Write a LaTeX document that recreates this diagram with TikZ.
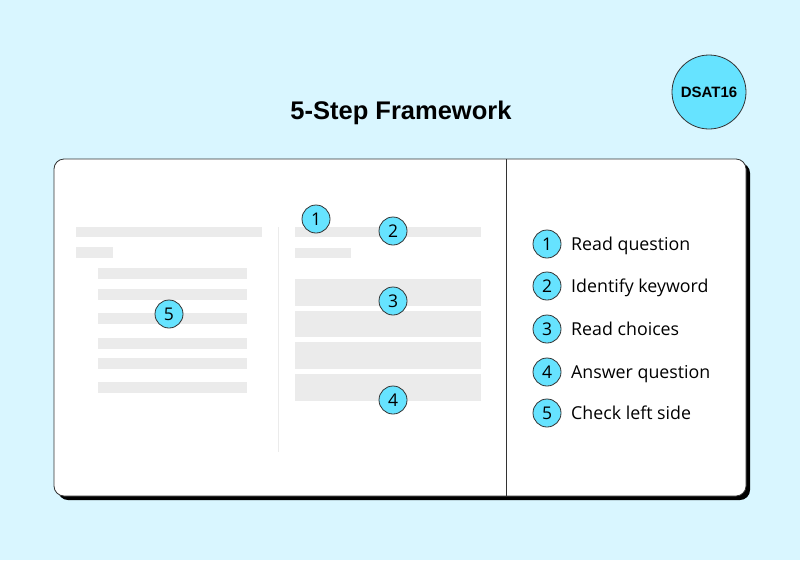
\documentclass[tikz,border=0pt]{standalone}
\usepackage{fontspec}
\setmainfont{Open Sans}
\newfontfamily\titlefont{Liberation Sans}
\begin{document}
\begin{tikzpicture}[x=1pt,y=-1pt,
  numcirc/.style={circle,draw=black!80,line width=0.8pt,fill=cyanfill,minimum size=28pt,inner sep=0pt,font=\fontsize{17.5}{17}\selectfont},
  bar/.style={fill=bargray,draw=none},
  legtext/.style={anchor=base west,inner sep=0pt,font=\fontsize{17.8}{20}\selectfont}]
\definecolor{bgcol}{HTML}{D9F6FF}
\definecolor{cyanfill}{HTML}{66E3FF}
\definecolor{bargray}{HTML}{EBEBEB}
\definecolor{edgecol}{HTML}{333333}
\fill[bgcol] (0,0) rectangle (800,560);
\useasboundingbox (0,0) rectangle (800,560);
% title
\node[font=\titlefont\bfseries\fontsize{25.5}{28}\selectfont] (title) at (401,113) {5-Step Framework};
\node[circle,draw=edgecol,line width=0.8pt,fill=cyanfill,minimum size=74pt,inner sep=0pt,font=\titlefont\bfseries\fontsize{15}{15}\selectfont] (badge) at (709,92) {DSAT16};
% card shadow and card
\fill[black,rounded corners=10pt] (58,163) rectangle (750,500);
\draw[edgecol,line width=0.8pt,fill=white,rounded corners=10pt] (54,159) rectangle (746,496);
\draw[edgecol,line width=0.8pt] (506,159) -- (506,496);
% left column
\fill[bar] (76,227) rectangle (262,237);
\fill[bar] (76,247) rectangle (113,258);
\foreach \y in {268,289,313,338,358,382}{
  \fill[bar] (98,\y) rectangle (247,\y+10.5);
}
\draw[line width=1pt,color=bargray] (278.5,227) -- (278.5,452);
% middle column
\fill[bar] (295,227) rectangle (481,237);
\fill[bar] (295,248) rectangle (351,258);
\fill[bar] (295,279) rectangle (481,306);
\fill[bar] (295,311) rectangle (481,337);
\fill[bar] (295,342) rectangle (481,369);
\fill[bar] (295,374) rectangle (481,401);
% circles on page
\node[numcirc] (p1) at (316,219) {1};
\node[numcirc] (p2) at (393,231) {2};
\node[numcirc] (p3) at (393,301) {3};
\node[numcirc] (p4) at (393,400) {4};
\node[numcirc] (p5) at (169,314) {5};
% legend
\node[numcirc] (l1) at (547,244) {1};
\node[numcirc] (l2) at (547,286) {2};
\node[numcirc] (l3) at (547,329) {3};
\node[numcirc] (l4) at (547,372) {4};
\node[numcirc] (l5) at (547,413) {5};
\node[legtext] (t1) at (571,250.5) {Read question};
\node[legtext] (t2) at (571,292.5) {Identify keyword};
\node[legtext] (t3) at (571,335.5) {Read choices};
\node[legtext] (t4) at (571,378.5) {Answer question};
\node[legtext] (t5) at (571,419.5) {Check left side};
\end{tikzpicture}
\end{document}
